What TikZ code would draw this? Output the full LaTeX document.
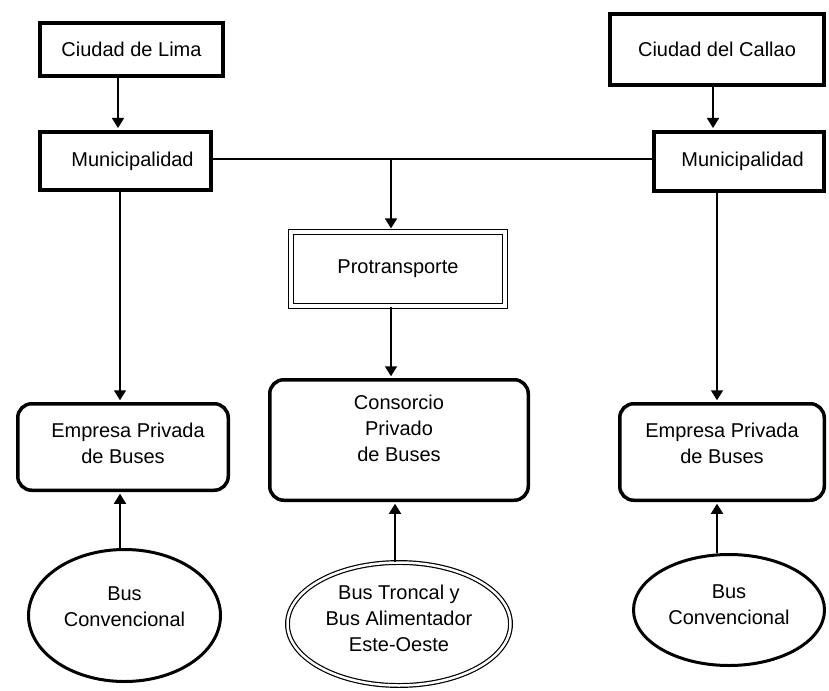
\documentclass[tikz,border=0pt]{standalone}
\usepackage{fontspec}
\setmainfont{Liberation Sans}
\usetikzlibrary{arrows.meta,shapes.geometric}

% multi-line label; #1 = extra depth (raises the text by half of it)
\newcommand\stack[2]{\raisebox{0pt}[\height][\dimexpr\depth+#1\relax]{\begin{tabular}{@{}c@{}}#2\end{tabular}}}

\tikzset{
  every node/.style={font=\fontsize{20}{26}\selectfont, inner sep=0pt},
  heavybox/.style={draw, line width=4pt},
  roundbox/.style={draw, line width=3.5pt, rounded corners=14pt},
  dblbox/.style={draw, double, double distance=3.5pt, line width=1.2pt},
  oval/.style={ellipse, draw, line width=3pt},
  dbloval/.style={ellipse, draw, double, double distance=2.5pt, line width=1.2pt},
  wire/.style={line width=1.6pt},
  link/.style={wire, -{Triangle[length=10pt,width=12pt]}},
}

\begin{document}
\begin{tikzpicture}[x=1pt, y=-1pt]
\useasboundingbox (0,0) rectangle (829,690);

% top row: cities
\node[heavybox, minimum width=183pt, minimum height=53pt] (lima) at (131.5,49.5) {Ciudad de Lima};
\node[heavybox, minimum width=214pt, minimum height=71pt] (callao) at (717,49.5) {Ciudad del Callao};

% municipalities
\node[heavybox, minimum width=171pt, minimum height=58pt] (muniL) at (125.5,161) {\hspace*{14pt}Municipalidad};
\node[heavybox, minimum width=170pt, minimum height=59pt] (muniR) at (739,161.5) {\hspace*{7pt}Municipalidad};

% central authority
\node[dblbox, minimum width=214pt, minimum height=74pt] (protrans) at (398,269) {Protransporte};

% operators
\node[roundbox, minimum width=210.5pt, minimum height=86.5pt] (empL) at (123,447) {\stack{3pt}{\hspace*{10pt}Empresa Privada\\de Buses}};
\node[roundbox, minimum width=258.5pt, minimum height=120.5pt] (cons) at (399,440) {\stack{20pt}{Consorcio\\Privado\\de Buses}};
\node[roundbox, minimum width=204.5pt, minimum height=96.5pt] (empR) at (722,452) {\stack{14pt}{Empresa Privada\\de Buses}};

% bus services
\node[oval, minimum width=192pt, minimum height=132pt] (ellL) at (124.5,615.5) {\stack{14pt}{Bus\\Convencional}};
\node[dbloval, minimum width=223pt, minimum height=123pt] (ellC) at (399,624) {\stack{8pt}{Bus Troncal y\\Bus Alimentador\\Este-Oeste}};
\node[oval, minimum width=191pt, minimum height=111pt] (ellR) at (729,610) {\stack{7pt}{Bus\\Convencional}};

% links between municipalities and Protransporte
\draw[wire] ([yshift=2pt]muniL.east) -- ([yshift=2pt]muniL.east -| muniR.west);
\coordinate (jn) at (391,159);
\draw[link, shorten >=3pt] (jn) -- (jn |- protrans.north);
\draw[link, shorten >=1.75pt] (jn |- protrans.south) -- (jn |- cons.north);
\draw[link, shorten >=1.75pt] ([xshift=-4pt]ellC.north) -- ([xshift=-4pt]ellC.north |- cons.south);

% left column
\draw[link, shorten >=2pt] ([xshift=-13.5pt]lima.south) -- ([xshift=-13.5pt]lima.south |- muniL.north);
\draw[link, shorten >=1.75pt] ([xshift=-5.5pt]muniL.south) -- ([xshift=-5.5pt]muniL.south |- empL.north);
\draw[link, shorten >=1.75pt] ([xshift=-4.5pt]ellL.north) -- ([xshift=-4.5pt]ellL.north |- empL.south);

% right column
\draw[link, shorten >=2pt] ([xshift=-4pt]callao.south) -- ([xshift=-4pt]callao.south |- muniR.north);
\draw[link, shorten >=1.75pt] ([xshift=-5pt]empR.north |- muniR.south) -- ([xshift=-5pt]empR.north);
\draw[link, shorten >=1.75pt] ([xshift=-12pt]ellR.north) -- ([xshift=-12pt]ellR.north |- empR.south);
\end{tikzpicture}
\end{document}
